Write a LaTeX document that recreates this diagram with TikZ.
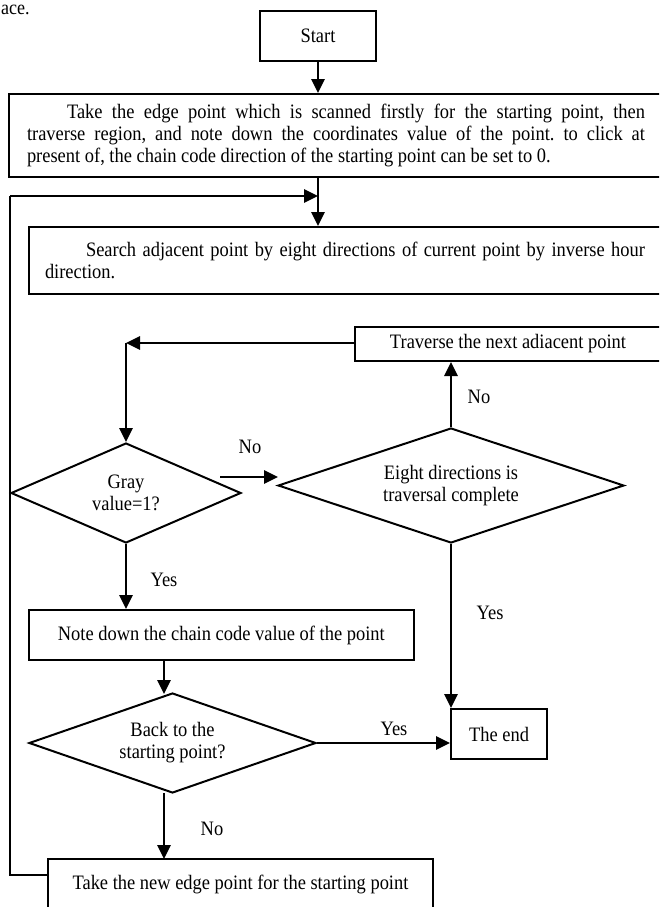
\documentclass[tikz,border=0pt]{standalone}
\usepackage{fontspec}
\setmainfont{Liberation Serif}[FakeStretch=0.9]
\usetikzlibrary{shapes.geometric,arrows.meta}
\newcommand{\figfont}{\fontsize{20.5}{22}\selectfont\frenchspacing}
\begin{document}
\begin{tikzpicture}[x=1pt,y=-1pt,
  box/.style={draw, line width=2pt, rectangle, inner sep=0pt, font=\figfont},
  dia/.style={draw, line width=2pt, diamond, inner sep=0pt, align=center, font=\figfont},
  arr/.style={line width=2.8pt, -{Triangle[length=14pt,width=13pt]}},
  plain/.style={line width=2.8pt},
  lbl/.style={font=\figfont, inner sep=0pt}]
\useasboundingbox (0,0) rectangle (659,907);
\clip (0,0) rectangle (659,907);

\node[anchor=base west, inner sep=0pt, font=\fontsize{20}{22}\selectfont] (frag) at (1,15) {ace.};

\node[box, minimum width=115.5pt, minimum height=50pt] (start) at (318,36) {Start};
\node[box, minimum width=654pt, minimum height=83pt, text width=618pt, align=justify] (take) at (336,135.5)
  {\hspace*{40pt}Take the edge point which is scanned firstly for the starting point, then\linebreak traverse region, and note down the coordinates value of the point. to click at\linebreak present of, the chain code direction of the starting point can be set to 0.};
\node[box, minimum width=632.8pt, minimum height=67pt, text width=600pt, align=justify] (search) at (345,260.5)
  {\hspace*{41pt}Search adjacent point by eight directions of current point by inverse hour\linebreak direction.};
\node[box, minimum width=306pt, minimum height=34pt] (trav) at (508,344) {\raisebox{-3pt}{Traverse the next adiacent point}};
\node[dia, minimum width=230pt, minimum height=100pt, aspect=2.3] (gray) at (126,493) {Gray\\value=1?};
\node[dia, minimum width=346pt, minimum height=115pt, aspect=3] (eight) at (451,485.5) {Eight directions is\\traversal complete};
\node[box, minimum width=385.4pt, minimum height=50pt] (note) at (221.3,635) {Note down the chain code value of the point};
\node[dia, minimum width=287pt, minimum height=100pt, aspect=2.87] (back) at (172.5,743) {Back to the\\starting point?};
\node[box, minimum width=96pt, minimum height=50pt] (theend) at (499,734) {The end};
\node[box, minimum width=385pt, minimum height=50pt] (newpt) at (240.5,884) {Take the new edge point for the starting point};

\coordinate (jn) at (318,196);
\coordinate (lx) at (10,196);
\coordinate (corner) at (126,343);
\coordinate (nofrom) at (220,477);
\coordinate (noto) at (278,477);
\coordinate (loopstart) at (48,875);

\draw[arr] (start.south) -- (take.north -| start.south);
\draw[arr] (take.south -| jn) -- (search.north -| jn);
\draw[plain] (loopstart) -| (lx);
\draw[arr] (lx) -- (jn);
\draw[arr] (trav.west |- corner) -- (corner);
\draw[arr] (corner) -- (gray.north);
\draw[arr] (nofrom) -- (noto);
\draw[arr] (eight.north) -- (eight.north |- trav.south);
\draw[arr] (eight.south) -- (eight.south |- theend.north);
\draw[arr] (gray.south) -- (gray.south |- note.north);
\draw[arr] (164,660) -- (164,694);
\draw[arr] (back.east) -- (back.east -| theend.west);
\draw[arr] (164,793) -- (164,859);

\node[lbl] (no1) at (250,447) {No};
\node[lbl] (no2) at (479,397) {No};
\node[lbl] (yes1) at (164,580) {Yes};
\node[lbl] (yes2) at (490,613) {Yes};
\node[lbl] (yes3) at (394,729) {Yes};
\node[lbl] (no3) at (212,829) {No};
\end{tikzpicture}
\end{document}
